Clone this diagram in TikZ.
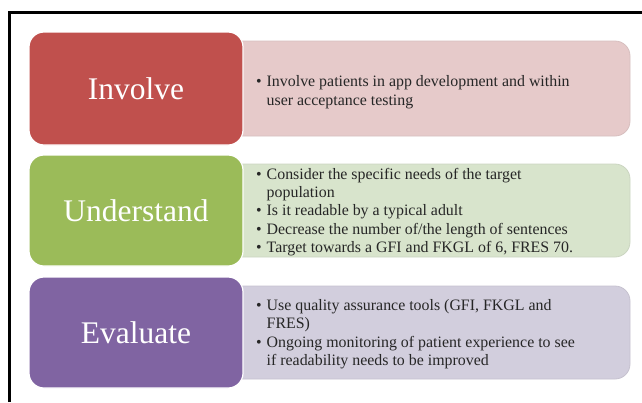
\documentclass[tikz,border=0pt]{standalone}
\usepackage{fontspec}
\setmainfont{Liberation Serif}
\definecolor{cRed}{HTML}{C0504D}
\definecolor{cGreen}{HTML}{9BBB59}
\definecolor{cPurple}{HTML}{8064A2}
\definecolor{lRed}{HTML}{E6CACA}
\definecolor{lGreen}{HTML}{D8E4CC}
\definecolor{lPurple}{HTML}{D2CEDD}
\definecolor{txt}{HTML}{262626}
\newcommand{\bul}{\makebox[10.5pt][l]{\textbullet}}
\newcommand{\ind}{\hspace*{10.5pt}}
\begin{document}
\begin{tikzpicture}[x=1pt,y=-1pt,
  headbox/.style={draw=white, line width=1.2pt, rounded corners=15pt},
  listbox/.style={line width=0.8pt, rounded corners=15pt},
  headtext/.style={text=white, font=\fontsize{31.5}{36}\selectfont, inner sep=0pt},
  listtext/.style={text=txt, font=\fontsize{15.9}{18.4}\selectfont, align=left, anchor=west, inner sep=0pt}]
\useasboundingbox (0,0) rectangle (642,402);
% frame
\draw[line width=2.4pt] (9.5,402) -- (9.5,12.5) -- (642,12.5);
% right boxes
\path[listbox, fill=lRed, draw=lRed!85!gray] (200,41) rectangle (630,136);
\path[listbox, fill=lGreen, draw=lGreen!85!gray] (200,164) rectangle (630,257);
\path[listbox, fill=lPurple, draw=lPurple!85!gray] (200,286) rectangle (630,379);
% left boxes
\path[headbox, fill=cRed] (29,32) rectangle (243,145);
\path[headbox, fill=cGreen] (29,155) rectangle (243,266);
\path[headbox, fill=cPurple] (29,277) rectangle (243,388);
% labels
\node[headtext] (inv) at (136,88.5) {Involve};
\node[headtext] (und) at (136,210.5) {Understand};
\node[headtext] (eva) at (136,332.5) {Evaluate};
% lists
\node[listtext] (l1) at (256,92) {\bul Involve patients in app development and within\\\ind user acceptance testing};
\node[listtext] (l2) at (256,212) {\bul Consider the specific needs of the target\\\ind population\\\bul Is it readable by a typical adult\\\bul Decrease the number of/the length of sentences\\\bul Target towards a GFI and FKGL of 6, FRES 70.};
\node[listtext] (l3) at (256,334) {\bul Use quality assurance tools (GFI, FKGL and\\\ind FRES)\\\bul Ongoing monitoring of patient experience to see\\\ind if readability needs to be improved};
\end{tikzpicture}
\end{document}
